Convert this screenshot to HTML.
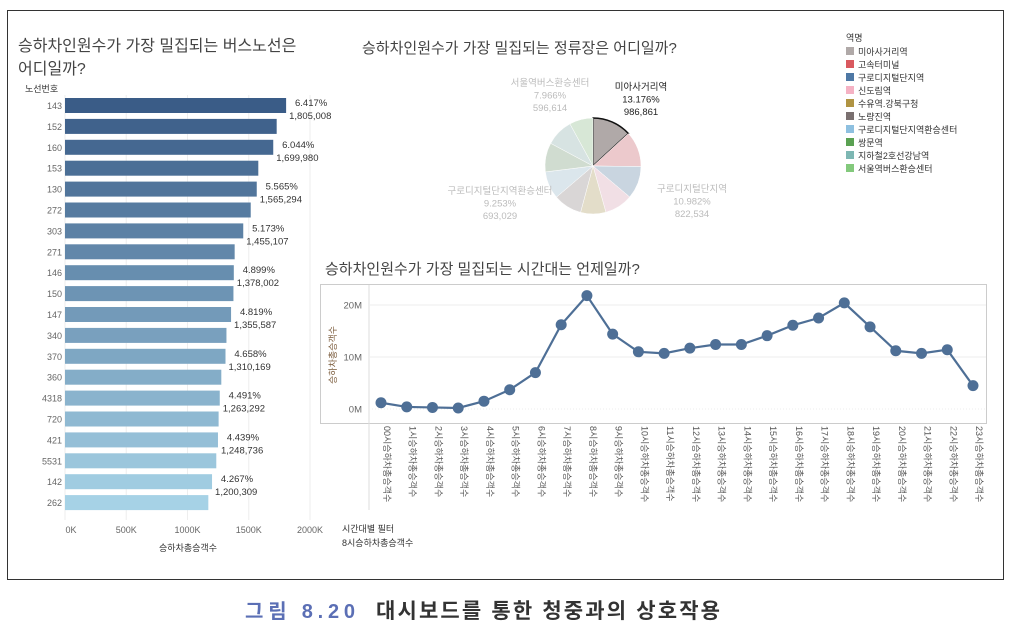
<!DOCTYPE html>
<html><head><meta charset="utf-8">
<style>
body{margin:0;background:#fff;font-family:"Liberation Sans","Noto Sans CJK KR",sans-serif;}
svg text{font-family:"Liberation Sans","Noto Sans CJK KR",sans-serif;}
</style></head>
<body>
<svg width="1010" height="636" viewBox="0 0 1010 636">
<rect x="7.5" y="10.5" width="996" height="569" fill="#fff" stroke="#333"/>
<text x="18" y="51" font-size="16" fill="#444">승하차인원수가 가장 밀집되는 버스노선은</text>
<text x="18" y="74" font-size="16" fill="#444">어디일까?</text>
<text x="25" y="92" font-size="9" fill="#333">노선번호</text>
<g id="bars"></g>
<text x="342" y="532" font-size="9" fill="#333">시간대별 필터</text>
<text x="342" y="546" font-size="9" fill="#333">8시승하차총승객수</text>

<text x="362" y="53" font-size="15" fill="#444">승하차인원수가 가장 밀집되는 정류장은 어디일까?</text>
<g id="pie"></g>
<g id="legend"></g>

<text x="325" y="274" font-size="15" fill="#444">승하차인원수가 가장 밀집되는 시간대는 언제일까?</text>
<g id="line"></g>

<text x="245" y="618" font-size="20" font-weight="bold" fill="#5b6fb5" textLength="110" lengthAdjust="spacing">그림 8.20</text>
<text x="376" y="618" font-size="21" font-weight="bold" fill="#333" textLength="344" lengthAdjust="spacing">대시보드를 통한 청중과의 상호작용</text>
</svg>
<script>
const NS="http://www.w3.org/2000/svg";
function mk(t,a,p,txt){const e=document.createElementNS(NS,t);for(const k in a)e.setAttribute(k,a[k]);if(txt!==undefined)e.textContent=txt;p.appendChild(e);return e;}

// ---- bar chart data
const routes=["143","152","160","153","130","272","303","271","146","150","147","340","370","360","4318","720","421","5531","142","262"];
const routeValues=[1805008,1728000,1699980,1578000,1565294,1516000,1455107,1385000,1378002,1375000,1355587,1318000,1310169,1276000,1263292,1254000,1248736,1235000,1200309,1170000];
const routePcts=["6.417%",null,"6.044%",null,"5.565%",null,"5.173%",null,"4.899%",null,"4.819%",null,"4.658%",null,"4.491%",null,"4.439%",null,"4.267%",null];
const barTicks=[0,500000,1000000,1500000,2000000];
const barTickLabels=["0K","500K","1000K","1500K","2000K"];

const bx=v=>65+v/2000000*245;
const by=i=>98+i*20.9;
const bg=document.getElementById('bars');
barTicks.forEach((t,i)=>{
  const l=mk('line',{x1:bx(t),x2:bx(t),y1:95,y2:520,stroke:'#eee'},bg);
  
  const tx=mk('text',{x:bx(t)+(i==0?6:0),y:533,'font-size':9,fill:'#666','text-anchor':'middle'},bg,barTickLabels[i]);
  
});
const xt=mk('text',{x:188,y:551,'font-size':9,fill:'#333','text-anchor':'middle'},bg,'승하차총승객수');

function lerp(a,b,t){return Math.round(a+(b-a)*t);}
routes.forEach((r,i)=>{
  const t=i/(routes.length-1);
  const c=`rgb(${lerp(58,166,t)},${lerp(92,210,t)},${lerp(135,230,t)})`;
  const b=mk('rect',{x:65,y:by(i),width:bx(routeValues[i])-65,height:15,fill:c},bg);
  
  const lb=mk('text',{x:62,y:by(i)+11,'font-size':9,fill:'#666','text-anchor':'end'},bg,r);
  
  if(routePcts[i]){
    const x=bx(routeValues[i])+3;
    const p=mk('text',{x:x+22,y:by(i)+8,'font-size':9.5,fill:'#333','text-anchor':'middle'},bg,routePcts[i]);
    
    const v=mk('text',{x:x,y:by(i)+21,'font-size':9.5,fill:'#333'},bg,routeValues[i].toLocaleString('en-US'));
    
  }
});

// ---- pie data
const stationNames=["미아사거리역","고속터미널","구로디지털단지역","신도림역","수유역.강북구청","노량진역","구로디지털단지역환승센터","쌍문역","지하철2호선강남역","서울역버스환승센터"];
const stationPcts=[13.176,12.0,10.982,9.5,8.5,9.6,9.253,9.8,9.2,7.966];
const stationColors=["#b0a9a8","#d9595f","#4e78a5","#f5b2c4","#b09443","#7a7070","#8ec0e0","#5aa152","#7db7b3","#83c97c"];
const fadedColors=["#b0a9a8","#ecc9cc","#c9d5e0","#f1dfe5","#e3ddc9","#d9d6d6","#dbe6ec","#d0dcd0","#d7e3e2","#d7e7d6"];
const pg=document.getElementById('pie');
const cx=593,cy=166,R=48;
let acc=0;
const tot=stationPcts.reduce((a,b)=>a+b,0);
stationPcts.forEach((p,i)=>{
  const a0=acc/tot*2*Math.PI, a1=(acc+p)/tot*2*Math.PI; acc+=p;
  const x0=cx+R*Math.sin(a0),y0=cy-R*Math.cos(a0),x1=cx+R*Math.sin(a1),y1=cy-R*Math.cos(a1);
  const s=mk('path',{d:`M${cx},${cy}L${x0},${y0}A${R},${R} 0 ${a1-a0>Math.PI?1:0} 1 ${x1},${y1}Z`,fill:fadedColors[i],stroke:i==0?'#111':'#fff','stroke-width':i==0?1.5:0.5},pg);
  
});
const pieLabels=[
  {x:641,y:90,c:'#222',t:["미아사거리역","13.176%","986,861"]},
  {x:550,y:86,c:'#bbb',t:["서울역버스환승센터","7.966%","596,614"]},
  {x:500,y:194,c:'#bbb',t:["구로디지털단지역환승센터","9.253%","693,029"]},
  {x:692,y:192,c:'#bbb',t:["구로디지털단지역","10.982%","822,534"]}
];
pieLabels.forEach(L=>{L.t.forEach((s,j)=>{
  const t=mk('text',{x:L.x,y:L.y+j*12.5,'font-size':9.5,fill:L.c,'text-anchor':'middle'},pg,s);
  
});});

const lg=document.getElementById('legend');
const lt=mk('text',{x:846,y:41,'font-size':9,fill:'#333'},lg,'역명');

stationNames.forEach((n,i)=>{
  const y=47+i*13;
  const r=mk('rect',{x:846,y:y,width:8,height:8,fill:stationColors[i]},lg);
  
  const t=mk('text',{x:858,y:y+8,'font-size':9,fill:'#333'},lg,n);
  
});

// ---- line data
const hours=["00","1","2","3","4","5","6","7","8","9","10","11","12","13","14","15","16","17","18","19","20","21","22","23"];
const hourValues=[1.2,0.4,0.3,0.2,1.5,3.7,7.0,16.2,21.8,14.4,11.0,10.7,11.7,12.4,12.4,14.1,16.1,17.5,20.4,15.8,11.2,10.7,11.4,4.5];
const lineTicks=[0,10,20];
const lineTickLabels=["0M","10M","20M"];
const lx=i=>381+i*(973-381)/23;
const ly=v=>409-v*5.2;
const lgp=document.getElementById('line');
const box=mk('rect',{x:320.5,y:284.5,width:666,height:139,fill:'none',stroke:'#ccc'},lgp);

const sep=mk('line',{x1:369,x2:369,y1:285,y2:510,stroke:'#ddd'},lgp);

lineTicks.forEach((t,i)=>{
  const g=mk('line',{x1:369,x2:986,y1:ly(t),y2:ly(t),stroke:'#eee','stroke-dasharray':t==0?'1,2':''},lgp);
  
  const tx=mk('text',{x:362,y:ly(t)+3.5,'font-size':9.5,fill:'#666','text-anchor':'end'},lgp,lineTickLabels[i]);
  
});
const yt=mk('text',{x:0,y:0,'font-size':9,fill:'#7a5a3a','text-anchor':'middle',transform:'translate(336,355) rotate(-90)'},lgp,'승하차총승객수');

const pts=hourValues.map((v,i)=>lx(i)+','+ly(v)).join(' ');
const pl=mk('polyline',{points:pts,fill:'none',stroke:'#4e6f96','stroke-width':2.2},lgp);

hourValues.forEach((v,i)=>{
  const c=mk('circle',{cx:lx(i),cy:ly(v),r:5.5,fill:'#4e6f96'},lgp);
  
  const t=mk('text',{x:0,y:0,'font-size':9,fill:'#555',transform:`translate(${lx(i)+3},${426}) rotate(90)`},lgp,hours[i]+'시승하차총승객수');
  
});
</script>
</body></html>
